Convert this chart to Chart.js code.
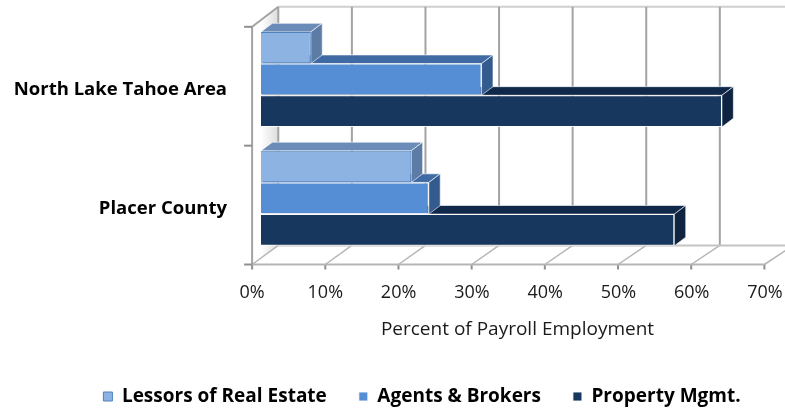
<!DOCTYPE html>
<html>
<head>
<meta charset="utf-8">
<script src="https://cdn.jsdelivr.net/npm/chart.js@4.4.0/dist/chart.umd.min.js"></script>
<style>
  html, body { margin: 0; padding: 0; background: #fff; }
  #wrap { width: 785px; height: 408px; }
</style>
</head>
<body>
<div id="wrap"><canvas id="chart"></canvas></div>
<script>
// data (percent of payroll employment)
const regions = ['North Lake Tahoe Area', 'Placer County'];
const lessors = [6.8, 20.5];
const agents = [30.1, 22.9];
const propertyMgmt = [62.9, 56.4];
const seriesNames = ['Lessors of Real Estate', 'Agents & Brokers', 'Property Mgmt.'];
const xTickValues = [0, 10, 20, 30, 40, 50, 60, 70];

// face colours: front, top, side
const frontColors = ['#8db3e2', '#558ed5', '#17375e'];
const topColors = ['#6b8cb8', '#3f6aa3', '#10284a'];
const sideColors = ['#5c7ca6', '#335b8e', '#0e2440'];
const borderColors = ['#4f81bd', 'rgba(255,255,255,0.85)', 'rgba(255,255,255,0.85)'];

// 3d geometry (pixels), bar plane is the chart area
const BAR_DX = 11.4, BAR_DY = 8.6;
const FRONT = { dx: -8.9, dy: 6.8, sx: 73.2 / 73.3, sy: 1 };
const BACK = { dx: 17.3, dy: -13.2, sx: 73.6 / 73.3, sy: 1.004 };
const LEGEND_FONT = 19, LEGEND_PAD = 32;
const LEGEND_H = LEGEND_FONT + LEGEND_PAD + 10;
const AREA_BOTTOM = 257.7;
const X_AXIS_H = 408 - LEGEND_H - AREA_BOTTOM;

function plane(p, area, px, py) {
    return [area.left + (px - area.left) * p.sx + p.dx, area.top + (py - area.top) * p.sy + p.dy];
}

function seg(ctx, a, b, color, w) {
    ctx.strokeStyle = color;
    ctx.lineWidth = w;
    ctx.beginPath();
    ctx.moveTo(a[0], a[1]);
    ctx.lineTo(b[0], b[1]);
    ctx.stroke();
}

function poly(ctx, pts, fill, stroke) {
    ctx.beginPath();
    pts.forEach((p, i) => i ? ctx.lineTo(p[0], p[1]) : ctx.moveTo(p[0], p[1]));
    ctx.closePath();
    ctx.fillStyle = fill;
    ctx.fill();
    if (stroke) {
        ctx.strokeStyle = stroke;
        ctx.lineWidth = 1;
        ctx.stroke();
    }
}

const depth3d = {
    id: 'depth3d',
    afterLayout(chart) {
        // legend sits right of centre and a little lower in the original
        const lg = chart.legend;
        lg.left += 35; lg.right += 35;
        lg.top += 8; lg.bottom += 8;
    },
    beforeDatasetsDraw(chart) {
        const { ctx, chartArea: area, scales: { x: xs, y: ys } } = chart;
        const grid = '#a3a3a3';
        ctx.save();

        const fTL = plane(FRONT, area, area.left, area.top);
        const fBL = plane(FRONT, area, area.left, area.bottom);
        const bTL = plane(BACK, area, area.left, area.top);
        const bBL = plane(BACK, area, area.left, area.bottom);

        // left wall
        const g = ctx.createLinearGradient(fTL[0], 0, bTL[0], 0);
        g.addColorStop(0, '#ffffff');
        g.addColorStop(0.35, '#ffffff');
        g.addColorStop(1, '#dcdcdc');
        poly(ctx, [fTL, bTL, bBL, fBL], g);

        // back wall top edge
        const bTR = plane(BACK, area, xs.getPixelForValue(70), area.top);
        seg(ctx, bTL, bTR, '#cfcfcf', 2);

        // back wall gridlines and floor
        xTickValues.forEach(v => {
            const px = xs.getPixelForValue(v);
            const t = plane(BACK, area, px, area.top);
            const b = plane(BACK, area, px, area.bottom);
            const f = plane(FRONT, area, px, area.bottom);
            seg(ctx, t, b, grid, 2);
            seg(ctx, f, b, '#b5b5b5', 1.5);
            seg(ctx, f, [f[0], f[1] + 5], '#8f8f8f', 2);
        });
        const fBR = plane(FRONT, area, xs.getPixelForValue(70), area.bottom);
        const bBR = plane(BACK, area, xs.getPixelForValue(70), area.bottom);
        seg(ctx, fBL, fBR, '#b5b5b5', 2);
        seg(ctx, bBL, bBR, '#c4c4c4', 2);

        // left wall edges and category ticks
        seg(ctx, fTL, fBL, grid, 2);
        seg(ctx, fTL, bTL, grid, 2);
        const mid = (ys.getPixelForValue(0) + ys.getPixelForValue(1)) / 2;
        [area.top, mid, area.bottom].forEach(py => {
            const p = plane(FRONT, area, area.left, py);
            seg(ctx, [p[0] - 8, p[1]], p, '#8f8f8f', 2);
        });
        ctx.restore();
    },
    beforeDatasetDraw(chart, args) {
        const ctx = chart.ctx;
        const i = args.index;
        ctx.save();
        args.meta.data.forEach(bar => {
            const { x, y, base, height } = bar.getProps(['x', 'y', 'base', 'height'], true);
            const top = y - height / 2, bottom = y + height / 2;
            poly(ctx, [[base, top], [base + BAR_DX, top - BAR_DY], [x + BAR_DX, top - BAR_DY], [x, top]],
                topColors[i], 'rgba(255,255,255,0.6)');
            poly(ctx, [[x, top], [x + BAR_DX, top - BAR_DY], [x + BAR_DX, bottom - BAR_DY], [x, bottom]],
                sideColors[i], 'rgba(255,255,255,0.6)');
        });
        ctx.restore();
    }
};

const seriesData = [lessors, agents, propertyMgmt];

new Chart(document.getElementById('chart'), {
    type: 'bar',
    data: {
        labels: regions,
        datasets: seriesNames.map((name, i) => ({
            label: name,
            data: seriesData[i],
            backgroundColor: frontColors[i],
            borderColor: borderColors[i],
            borderWidth: 1,
            categoryPercentage: 0.8,
            barPercentage: 1.0
        }))
    },
    options: {
        indexAxis: 'y',
        responsive: true,
        maintainAspectRatio: false,
        animation: false,
        devicePixelRatio: 1,
        layout: { padding: { top: 20, right: 11, left: 0, bottom: 0 } },
        scales: {
            x: {
                min: 0,
                max: 70,
                grid: { display: false },
                border: { display: false },
                ticks: {
                    stepSize: 10,
                    labelOffset: -9,
                    padding: 16,
                    color: '#1a1a1a',
                    font: { family: 'Open Sans', size: 18 },
                    callback: v => v + '%'
                },
                title: {
                    display: true,
                    text: 'Percent of Payroll Employment',
                    color: '#1a1a1a',
                    font: { family: 'Open Sans', size: 19 },
                    padding: { top: 0, bottom: 6 }
                },
                afterFit: s => {
                    s.height = X_AXIS_H;
                    s.paddingLeft = 0;
                    s.paddingRight = 0;
                }
            },
            y: {
                grid: { display: false },
                border: { display: false },
                ticks: {
                    padding: 26,
                    labelOffset: 10,
                    color: '#000',
                    font: { family: 'Open Sans', size: 18.5, weight: 'bold' }
                },
                afterFit: s => {
                    s.width = 261;
                    s.paddingTop = 0;
                    s.paddingBottom = 0;
                }
            }
        },
        plugins: {
            legend: {
                position: 'bottom',
                labels: {
                    boxWidth: 9,
                    boxHeight: 9,
                    padding: LEGEND_PAD,
                    color: '#000',
                    font: { family: 'Open Sans', size: LEGEND_FONT, weight: 'bold' }
                }
            },
            tooltip: { enabled: false }
        }
    },
    plugins: [depth3d]
});
</script>
</body>
</html>
